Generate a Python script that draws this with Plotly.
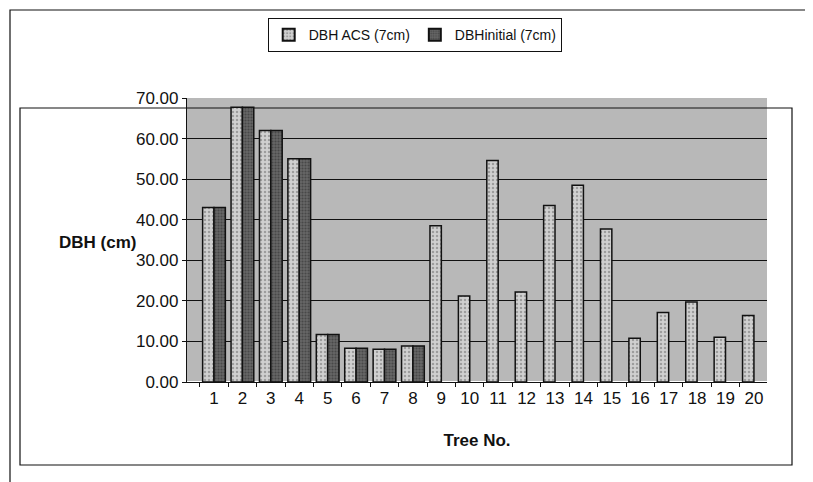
import plotly.graph_objects as go

trees = [str(i) for i in range(1, 21)]
dbh_acs = [43, 67.7, 62, 55, 11.7, 8.3, 8.1, 8.9, 38.5, 21.2, 54.6, 22.2,
           43.5, 48.5, 37.7, 10.8, 17.1, 19.7, 11, 16.4]
dbh_initial = [43, 67.7, 62, 55, 11.7, 8.3, 8.1, 8.9, None, None, None, None,
               None, None, None, None, None, None, None, None]
y_ticks = [0, 10, 20, 30, 40, 50, 60, 70]

FONT = "Liberation Sans, Arial, sans-serif"

L, R, T, B = 179, 54, 90, 108
PW = 813 - L - R
PH = 482 - T - B


def px(x):
    return (x - L) / PW


def py(y):
    return (482 - B - y) / PH


fig = go.Figure()
fig.add_trace(go.Bar(
    x=trees, y=dbh_acs, name="DBH ACS (7cm)",
    marker=dict(color="#d0d0d0", line=dict(color="#111111", width=1.5),
                pattern=dict(shape=".", fgcolor="#6a6a6a", size=4, solidity=0.3)),
))
fig.add_trace(go.Bar(
    x=trees, y=dbh_initial, name="DBHinitial (7cm)",
    marker=dict(color="#666666", line=dict(color="#111111", width=1.5),
                pattern=dict(shape=".", fgcolor="#2a2a2a", size=3, solidity=0.4)),
))

fig.update_layout(
    width=813, height=482,
    paper_bgcolor="white", plot_bgcolor="#b8b8b8",
    barmode="group", bargap=0.2, bargroupgap=0.0,
    margin=dict(l=L, r=R, t=T, b=B, autoexpand=False),
    font=dict(family=FONT, size=16, color="#111111"),
    showlegend=True,
    legend=dict(orientation="h", x=px(407), xref="paper", xanchor="center",
                y=py(10), yanchor="top", bordercolor="#111111", borderwidth=1.2,
                bgcolor="white", font=dict(family=FONT, size=14),
                itemwidth=30, tracegroupgap=0, itemsizing="constant"),
    xaxis=dict(range=[-0.95, 19.46], showgrid=False, showline=True,
               linecolor="#111111", linewidth=1.2,
               ticks="outside", ticklen=4, tickcolor="#111111", tickson="boundaries",
               tickfont=dict(family=FONT, size=17),
               title=dict(text="<b>Tree No.</b>", font=dict(family=FONT, size=17),
                          standoff=27)),
    yaxis=dict(range=[0, 70], tickvals=y_ticks,
               ticktext=[f"{v:.2f}" for v in y_ticks],
               showgrid=True, gridcolor="#111111", gridwidth=1,
               showline=True, linecolor="#111111", linewidth=1.2,
               ticks="outside", ticklen=4, tickcolor="#111111",
               tickfont=dict(family=FONT, size=17)),
    shapes=[
        dict(type="rect", xref="paper", yref="paper", x0=px(2), x1=px(811),
             y0=py(480), y1=py(2),
             line=dict(color="#111111", width=1.2), fillcolor="rgba(0,0,0,0)", layer="below"),
        dict(type="rect", xref="paper", yref="paper", x0=px(12), x1=px(784),
             y0=py(457), y1=py(100),
             line=dict(color="#111111", width=1.2), fillcolor="rgba(0,0,0,0)", layer="below"),
    ],
    annotations=[
        dict(text="<b>DBH (cm)</b>", xref="paper", yref="paper",
             x=px(89), y=py(234), xanchor="center", yanchor="middle",
             showarrow=False, font=dict(family=FONT, size=17)),
    ],
)

fig.write_html("out.html")
